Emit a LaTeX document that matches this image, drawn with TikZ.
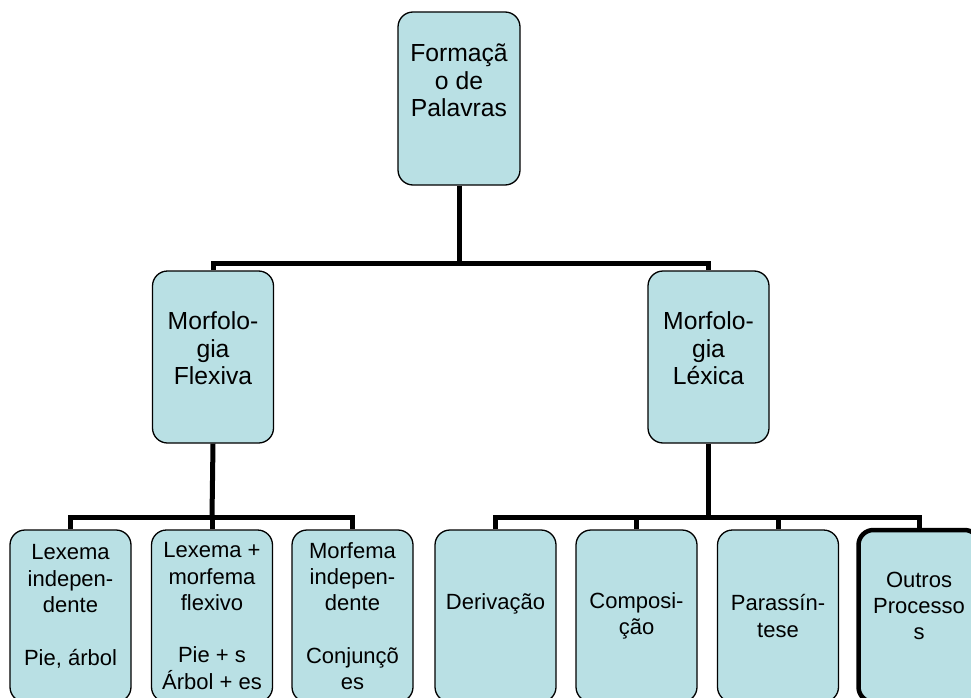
\documentclass[tikz,border=0pt]{standalone}
\usepackage{fontspec}
\setmainfont{Liberation Sans}
\usetikzlibrary{positioning}
\definecolor{BoxFill}{HTML}{B9E0E4}

\begin{document}
\begin{tikzpicture}[x=1pt,y=-1pt,
  box/.style={draw,fill=BoxFill,rounded corners=15pt,line width=1.3pt,
    minimum width=121pt,minimum height=172pt,inner sep=0pt,align=center},
  big/.style={font=\fontsize{24.7}{27.5}\selectfont},
  small/.style={font=\fontsize{22}{26.3}\selectfont},
  conn/.style={line width=5pt,line join=miter}]
  \useasboundingbox (0,0) rectangle (971,698);
  \clip (0,0) rectangle (971,698);
  % top
  \node[box,big,minimum width=122pt,minimum height=173pt] (formacao) at (459,98.5)
    {Formaçã\\o de\\Palavras\\\strut};
  % middle row
  \node[box,big] (flexiva) at (213,357) {Morfolo-\\gia\\Flexiva\\[-18.7pt]\strut};
  \node[box,big] (lexica) at (708.5,357) {Morfolo-\\gia\\Léxica\\[-18.7pt]\strut};
  % bottom row, left
  \node[box,small] (lexind) at (70.5,616) {Lexema\\indepen-\\dente\\\strut\\Pie, árbol\\[-12pt]\strut};
  \node[box,small] (lexflex) at (212,616) {Lexema +\\morfema\\flexivo\\\strut\\Pie + s\\Árbol + es};
  \node[box,small] (morfind) at (352.5,616) {Morfema\\indepen-\\dente\\\strut\\Conjunçõ\\es};
  % bottom row, right
  \node[box,small] (derivacao) at (495.5,616) {Derivação\\[-6pt]\strut};
  \node[box,small] (composicao) at (636.5,616) {Composi-\\ção};
  \node[box,small] (parassintese) at (778,616) {Parassín-\\tese};
  \node[box,small,line width=4.5pt] (outros) at (919,616) {Outros\\Processo\\s\\[-14pt]\strut};
  % connectors
  \coordinate (jtop) at (459,263);
  \coordinate (jflex) at (212,517);
  \coordinate (jlex) at (708.5,517);
  \draw[conn] (formacao.south) -- (jtop);
  \draw[conn] (flexiva.north) |- (jtop) -| (lexica.north);
  \draw[conn] (flexiva.south) -- (jflex);
  \draw[conn] (lexind.north) |- (jflex) -| (morfind.north);
  \draw[conn] (lexflex.north) -- (jflex);
  \draw[conn] (lexica.south) -- (jlex);
  \draw[conn] (derivacao.north) |- (jlex) -| (outros.north);
  \draw[conn] (composicao.north) |- (jlex);
  \draw[conn] (parassintese.north) |- (jlex);
\end{tikzpicture}
\end{document}
